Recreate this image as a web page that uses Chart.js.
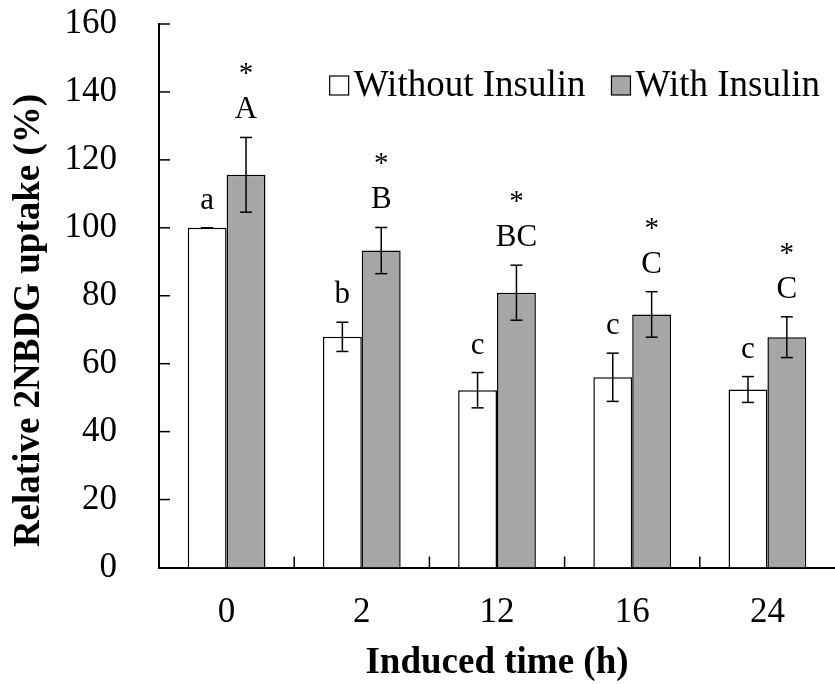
<!DOCTYPE html>
<html>
<head>
<meta charset="utf-8">
<script src="https://cdn.jsdelivr.net/npm/chart.js@4.4.1/dist/chart.umd.min.js"></script>
<style>
  html, body { margin: 0; padding: 0; background: #fff; overflow: hidden; }
  #wrap { width: 835px; height: 684px; }
</style>
</head>
<body>
<div id="wrap"><canvas id="chart"></canvas></div>
<script>
// ── data ──
const categories = ['0', '2', '12', '16', '24'];
const withoutInsulin = [100, 67.9, 52.2, 56.0, 52.4];
const withoutErr = [0, 4.3, 5.2, 7.1, 3.8];
const withInsulin = [115.6, 93.3, 80.9, 74.5, 67.8];
const withErr = [11.0, 6.8, 8.1, 6.7, 6.0];
const withoutLetters = ['a', 'b', 'c', 'c', 'c'];
const withLetters = ['A', 'B', 'BC', 'C', 'C'];
const significance = ['*', '*', '*', '*', '*'];
const yMin = 0, yMax = 160, yStep = 20;

const SERIF = "'Liberation Serif', 'Times New Roman', serif";
const GRAY = '#a6a6a6';

function line(ctx, x1, y1, x2, y2) {
    ctx.beginPath();
    ctx.moveTo(x1, y1);
    ctx.lineTo(x2, y2);
    ctx.stroke();
}

// error bars, letters, inward ticks, legend, y title
const marksPlugin = {
    id: 'marks',
    afterDatasetsDraw(chart) {
        const { ctx, chartArea, scales: { x, y } } = chart;
        ctx.save();
        ctx.strokeStyle = '#000';
        ctx.fillStyle = '#000';

        // tick marks pointing into the plot
        ctx.lineWidth = 1.5;
        y.ticks.forEach(t => {
            if (t.value === yMin) return;
            const py = y.getPixelForValue(t.value);
            line(ctx, chartArea.left, py, chartArea.left + 11, py);
        });
        for (let i = 0; i < categories.length - 1; i++) {
            const px = (x.getPixelForValue(i) + x.getPixelForValue(i + 1)) / 2;
            line(ctx, px, chartArea.bottom, px, chartArea.bottom - 11);
        }

        const sets = [
            [withoutInsulin, withoutErr, withoutLetters, null],
            [withInsulin, withErr, withLetters, significance],
        ];
        sets.forEach(([vals, errs, letters, stars], d) => {
            chart.getDatasetMeta(d).data.forEach((bar, i) => {
                const top = y.getPixelForValue(vals[i] + errs[i]);
                const bot = y.getPixelForValue(vals[i] - errs[i]);
                ctx.lineWidth = 1.5;
                line(ctx, bar.x, top, bar.x, bot);
                line(ctx, bar.x - 6, top, bar.x + 6, top);
                line(ctx, bar.x - 6, bot, bar.x + 6, bot);

                ctx.textAlign = 'center';
                ctx.textBaseline = 'alphabetic';
                ctx.font = `31px ${SERIF}`;
                const base = top - 19;
                ctx.fillText(letters[i], bar.x, base);
                if (stars) {
                    ctx.font = `29px ${SERIF}`;
                    ctx.fillText(stars[i], bar.x, base - 36);
                }
            });
        });
        ctx.restore();
    },
    afterDraw(chart) {
        const { ctx, chartArea } = chart;
        ctx.save();

        // legend, top right inside the plot
        ctx.font = `37px ${SERIF}`;
        ctx.textBaseline = 'alphabetic';
        ctx.textAlign = 'left';
        const items = chart.data.datasets.map(ds => ({
            text: ds.label, fill: ds.backgroundColor, w: ctx.measureText(ds.label).width,
        }));
        const box = 19, gapBox = 5, gapItem = 26;
        const total = items.reduce((s, it) => s + box + gapBox + it.w, 0) + gapItem * (items.length - 1);
        let lx = chartArea.right - 15 - total;
        const base = chartArea.top + 72;
        items.forEach(it => {
            ctx.fillStyle = it.fill;
            ctx.fillRect(lx, base - 20, box, box);
            ctx.strokeStyle = '#000';
            ctx.lineWidth = 1.2;
            ctx.strokeRect(lx, base - 20, box, box);
            ctx.fillStyle = '#000';
            ctx.fillText(it.text, lx + box + gapBox, base);
            lx += box + gapBox + it.w + gapItem;
        });

        // y axis title
        ctx.font = `bold 37px ${SERIF}`;
        ctx.textAlign = 'center';
        ctx.textBaseline = 'middle';
        ctx.translate(29, chartArea.bottom - 247);
        ctx.rotate(-Math.PI / 2);
        ctx.fillText('Relative 2NBDG uptake (%)', 0, 0);
        ctx.restore();
    },
};

new Chart(document.getElementById('chart'), {
    type: 'bar',
    data: {
        labels: categories,
        datasets: [
            {
                label: 'Without Insulin',
                data: withoutInsulin,
                backgroundColor: '#ffffff',
                borderColor: '#000',
                borderWidth: 1.5,
            },
            {
                label: 'With Insulin',
                data: withInsulin,
                backgroundColor: GRAY,
                borderColor: '#000',
                borderWidth: 1.5,
            },
        ],
    },
    options: {
        responsive: true,
        maintainAspectRatio: false,
        animation: false,
        categoryPercentage: 0.575,
        barPercentage: 1.0,
        layout: { padding: { top: 24, right: -2, left: 0, bottom: 0 } },
        plugins: {
            legend: { display: false },
            tooltip: { enabled: false },
        },
        scales: {
            x: {
                grid: { display: false, drawTicks: false },
                border: { display: true, color: '#000', width: 2 },
                ticks: { color: '#000', padding: 24, font: { family: SERIF, size: 35 } },
                title: {
                    display: true,
                    text: 'Induced time (h)',
                    color: '#000',
                    font: { family: SERIF, size: 37, weight: 'bold', lineHeight: 1 },
                    padding: { top: 0, bottom: 2 },
                },
                afterFit(scale) {
                    scale.height = 116.5;
                    scale.paddingLeft = 0;
                    scale.paddingRight = 0;
                },
            },
            y: {
                min: yMin,
                max: yMax,
                grid: { display: false, drawTicks: false },
                border: { display: true, color: '#000', width: 2 },
                ticks: {
                    stepSize: yStep,
                    color: '#000',
                    padding: 42,
                    font: { family: SERIF, size: 35 },
                },
                afterFit(scale) {
                    scale.width = 159;
                    scale.paddingTop = 0;
                    scale.paddingBottom = 0;
                },
            },
        },
    },
    plugins: [marksPlugin],
});
</script>
</body>
</html>
